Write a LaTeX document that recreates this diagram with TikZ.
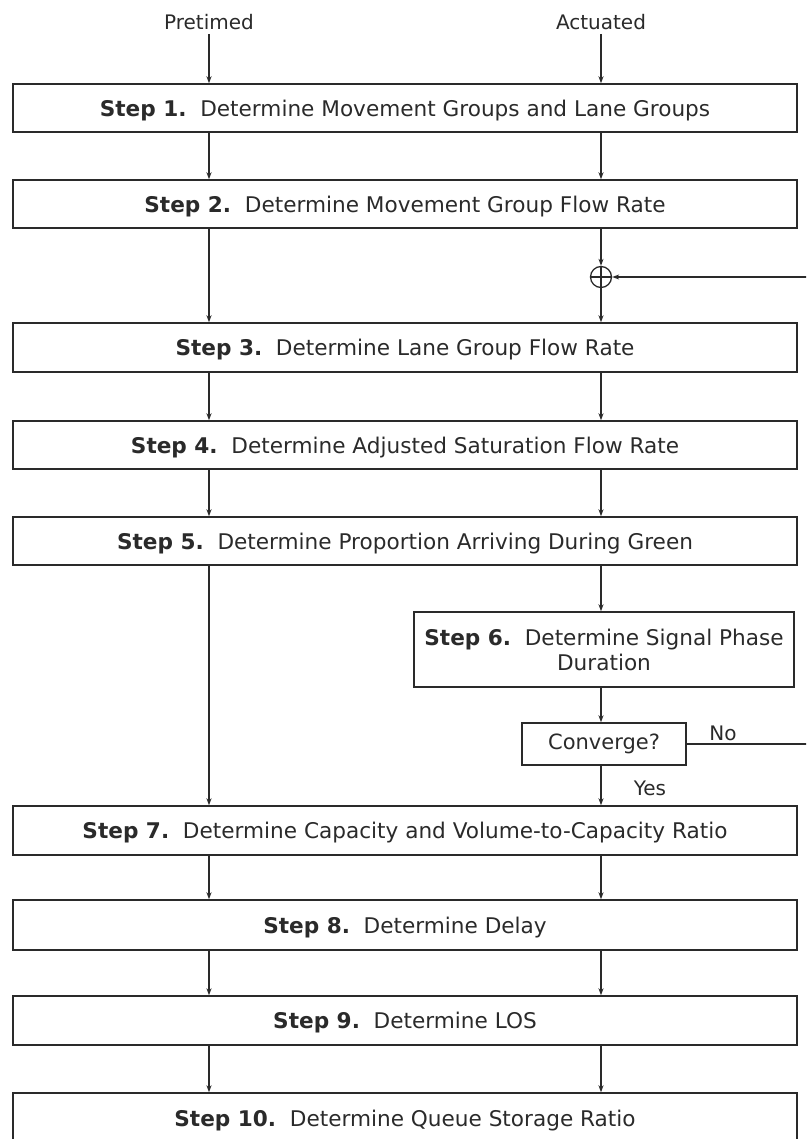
\documentclass[tikz,border=0pt]{standalone}
\usepackage{fontspec}
\setmainfont{DejaVu Sans}
\usetikzlibrary{arrows.meta}
\definecolor{ink}{HTML}{2A2A2A}
\begin{document}
\begin{tikzpicture}[x=1pt,y=-1pt,
  every node/.style={text=ink},
  stepbox/.style={draw=ink, line width=1.4pt, rectangle, inner sep=0pt,
    minimum width=784pt, font=\fontsize{21.6}{25}\selectfont, align=center, text depth=0pt},
  smallbox/.style={draw=ink, line width=1.4pt, rectangle, inner sep=0pt,
    font=\fontsize{21.6}{25}\selectfont, align=center},
  lbl/.style={font=\fontsize{20}{25}\selectfont, inner sep=0pt},
  conn/.style={draw=ink, line width=1.3pt, -{Stealth[length=7pt,width=5pt]}},
  plain/.style={draw=ink, line width=1.3pt}]
\path[use as bounding box] (0,0) rectangle (806,1139);
\clip (0,0) rectangle (806,1139);
\coordinate (lx) at (209,0);
\coordinate (rx) at (601,0);
\node[lbl] (pre) at (209,22) {Pretimed};
\node[lbl] (act) at (601,22) {Actuated};
\node[stepbox, minimum height=48pt] (s1) at (405,108) {\textbf{Step 1.}\ \ Determine Movement Groups and Lane Groups};
\node[stepbox, minimum height=48pt] (s2) at (405,204) {\textbf{Step 2.}\ \ Determine Movement Group Flow Rate};
\node[circle, draw=ink, line width=1.3pt, minimum size=21pt, inner sep=0pt] (sum) at (601,277) {};
\node[stepbox, minimum height=49pt] (s3) at (405,347.5) {\textbf{Step 3.}\ \ Determine Lane Group Flow Rate};
\node[stepbox, minimum height=48pt] (s4) at (405,445) {\textbf{Step 4.}\ \ Determine Adjusted Saturation Flow Rate};
\node[stepbox, minimum height=48pt] (s5) at (405,541) {\textbf{Step 5.}\ \ Determine Proportion Arriving During Green};
\node[smallbox, minimum width=380pt, minimum height=75pt] (s6) at (604,649.5) {\textbf{Step 6.}\ \ Determine Signal Phase\\Duration};
\node[smallbox, minimum width=164pt, minimum height=42pt, font=\fontsize{21}{25}\selectfont] (cv) at (604,744) {Converge?};
\node[stepbox, minimum height=49pt] (s7) at (405,830.5) {\textbf{Step 7.}\ \ Determine Capacity and Volume-to-Capacity Ratio};
\node[stepbox, minimum height=50pt] (s8) at (405,925) {\textbf{Step 8.}\ \ Determine Delay};
\node[stepbox, minimum height=49pt] (s9) at (405,1020.5) {\textbf{Step 9.}\ \ Determine LOS};
\node[stepbox, minimum height=50pt] (s10) at (405,1118) {\textbf{Step 10.}\ \ Determine Queue Storage Ratio};
\node[lbl] (no) at (723,733) {No};
\node[lbl] (yes) at (650,788) {Yes};
\coordinate (fbA) at (815,744);
\coordinate (fbB) at (815,277);
% plus sign inside the summing circle
\draw[plain] (sum.north) -- (sum.south);
\draw[plain] (sum.west) -- (sum.east);
% left column
\draw[conn] (pre.south) ++(0,4) -- (s1.north -| lx);
\draw[conn] (s1.south -| lx) -- (s2.north -| lx);
\draw[conn] (s2.south -| lx) -- (s3.north -| lx);
\draw[conn] (s3.south -| lx) -- (s4.north -| lx);
\draw[conn] (s4.south -| lx) -- (s5.north -| lx);
\draw[conn] (s5.south -| lx) -- (s7.north -| lx);
\draw[conn] (s7.south -| lx) -- (s8.north -| lx);
\draw[conn] (s8.south -| lx) -- (s9.north -| lx);
\draw[conn] (s9.south -| lx) -- (s10.north -| lx);
% right column
\draw[conn] (act.south) ++(0,4) -- (s1.north -| rx);
\draw[conn] (s1.south -| rx) -- (s2.north -| rx);
\draw[conn] (s2.south -| rx) -- (sum.north);
\draw[conn] (sum.south) -- (s3.north -| rx);
\draw[conn] (s3.south -| rx) -- (s4.north -| rx);
\draw[conn] (s4.south -| rx) -- (s5.north -| rx);
\draw[conn] (s5.south -| rx) -- (s6.north -| rx);
\draw[conn] (s6.south -| rx) -- (cv.north -| rx);
\draw[conn] (cv.south -| rx) -- (s7.north -| rx);
\draw[conn] (s7.south -| rx) -- (s8.north -| rx);
\draw[conn] (s8.south -| rx) -- (s9.north -| rx);
\draw[conn] (s9.south -| rx) -- (s10.north -| rx);
% feedback loop
\draw[conn] (cv.east) -- (fbA) -- (fbB) -- (sum.east);
\end{tikzpicture}
\end{document}
